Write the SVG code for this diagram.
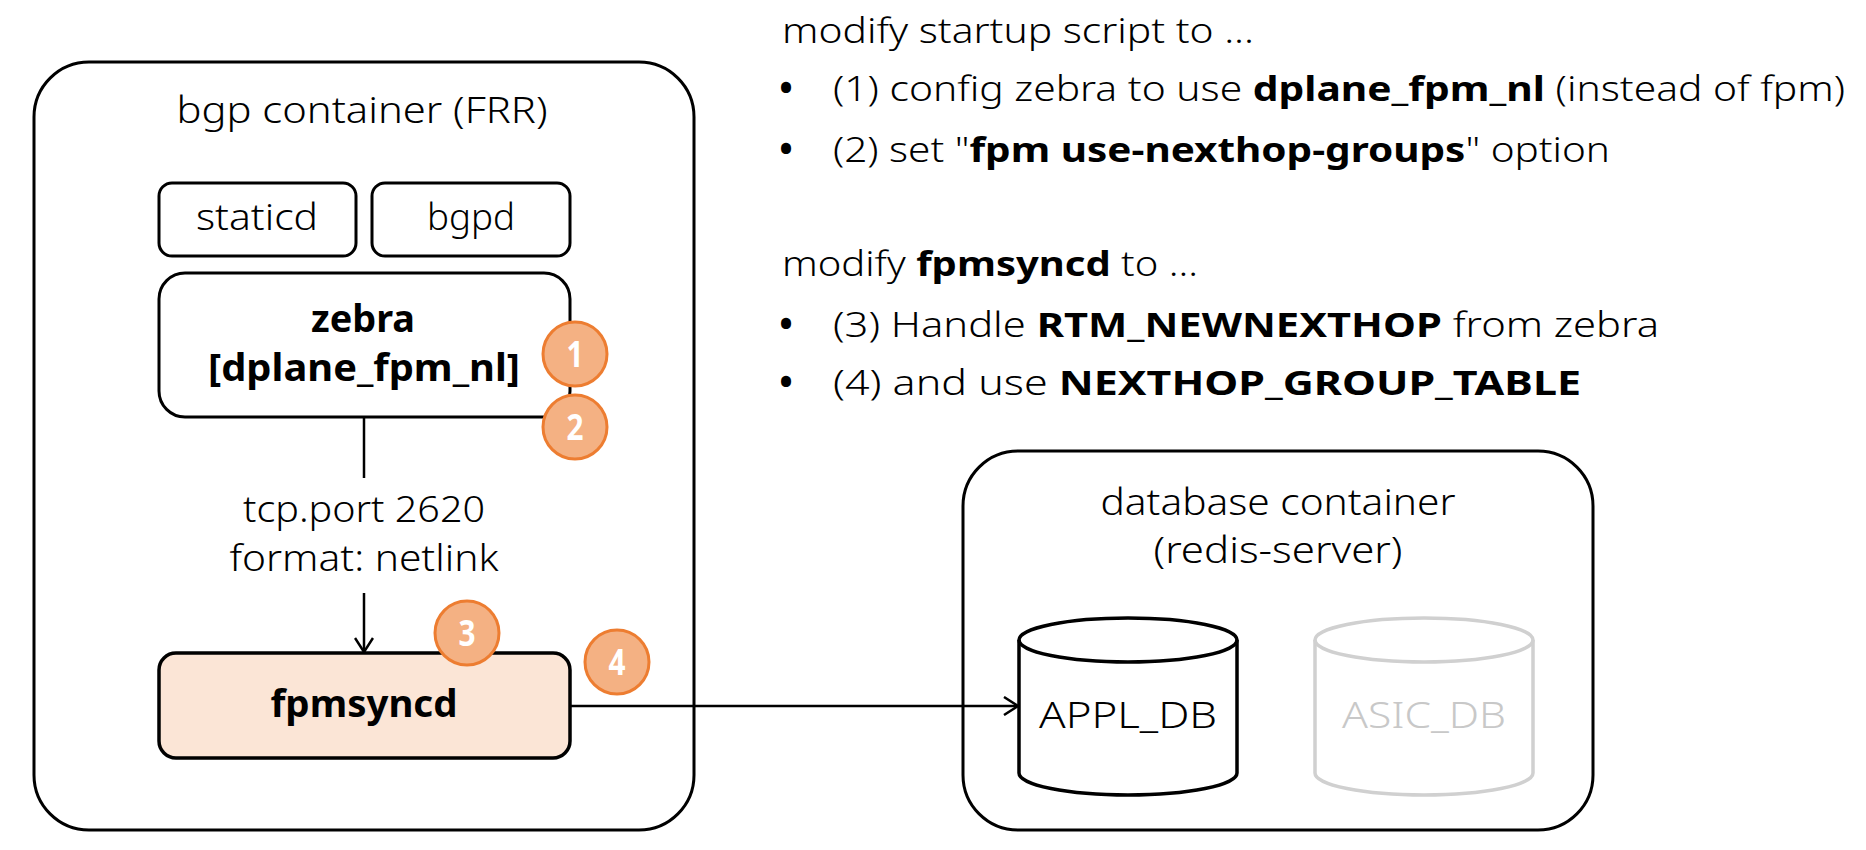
<svg xmlns="http://www.w3.org/2000/svg" width="1866" height="850" viewBox="0 0 1866 850">
<style>
  text { font-family: "Noto Sans", "Open Sans", "Liberation Sans", sans-serif; fill: #000; font-weight: 300; }
  .c { text-anchor: middle; }
  .b { font-weight: bold; }
  .container { fill: #fff; stroke: #000; stroke-width: 3; }
  .box { fill: #fff; stroke: #000; stroke-width: 3; }
  .lbl { font-size: 37px; }
  .rt { font-size: 34px; }
  .bul { font-size: 36px; font-weight: bold; text-anchor: middle; }
  .badge circle { fill: #F4B183; stroke: #ED7D31; stroke-width: 3; }
  .badge text { fill: #fff; font-size: 36px; font-weight: bold; text-anchor: middle; }
  .conn { fill: none; stroke: #000; stroke-width: 2.5; }
</style>
<defs>
  <marker id="arrow" viewBox="0 0 16 20" refX="15" refY="10" markerWidth="16" markerHeight="20" markerUnits="userSpaceOnUse" orient="auto">
    <path d="M1,1 L15,10 L1,19" fill="none" stroke="#000" stroke-width="2.5"/>
  </marker>
</defs>
<rect width="1866" height="850" fill="#fff"/>

<g id="bgp-container">
  <rect class="container" x="34" y="62" width="660" height="768" rx="55" ry="55"/>
  <text class="lbl c" x="362" y="123" textLength="371" lengthAdjust="spacingAndGlyphs">bgp container (FRR)</text>
</g>

<g id="db-container">
  <rect class="container" x="963" y="451" width="630" height="379" rx="55" ry="55"/>
  <text class="lbl c" x="1278" y="515" textLength="355" lengthAdjust="spacingAndGlyphs">database container</text>
  <text class="lbl c" x="1278" y="563" textLength="249" lengthAdjust="spacingAndGlyphs">(redis-server)</text>
</g>

<g id="connectors">
  <line class="conn" x1="364" y1="417" x2="364" y2="478"/>
  <line class="conn" x1="364" y1="593" x2="364" y2="652" marker-end="url(#arrow)"/>
  <line class="conn" x1="570" y1="706" x2="1018" y2="706" marker-end="url(#arrow)"/>
  <text class="lbl c" x="364" y="522" textLength="242" lengthAdjust="spacingAndGlyphs">tcp.port 2620</text>
  <text class="lbl c" x="364" y="571" textLength="269" lengthAdjust="spacingAndGlyphs">format: netlink</text>
</g>

<g id="staticd">
  <rect class="box" x="159" y="183" width="197" height="73" rx="13" ry="13"/>
  <text class="lbl c" x="257" y="230" textLength="122" lengthAdjust="spacingAndGlyphs">staticd</text>
</g>

<g id="bgpd">
  <rect class="box" x="372" y="183" width="198" height="73" rx="13" ry="13"/>
  <text class="lbl c" x="471" y="230" textLength="88" lengthAdjust="spacingAndGlyphs">bgpd</text>
</g>

<g id="zebra">
  <rect class="box" x="159" y="273" width="411" height="144" rx="26" ry="26"/>
  <text class="lbl c b" x="363" y="332" textLength="104" lengthAdjust="spacingAndGlyphs">zebra</text>
  <text class="lbl c b" x="364" y="381" textLength="312" lengthAdjust="spacingAndGlyphs">[dplane_fpm_nl]</text>
</g>

<g id="fpmsyncd">
  <rect x="159" y="653" width="411" height="105" rx="17" ry="17" fill="#FBE5D6" stroke="#000" stroke-width="3.5"/>
  <text class="lbl c b" x="364" y="717" textLength="187" lengthAdjust="spacingAndGlyphs">fpmsyncd</text>
</g>

<g id="appl-db">
  <path d="M1019,640 A109,22 0 0 1 1237,640 L1237,773 A109,22 0 0 1 1019,773 Z" fill="#fff" stroke="#000" stroke-width="3.5"/>
  <path d="M1019,640 A109,22 0 0 0 1237,640" fill="none" stroke="#000" stroke-width="3.5"/>
  <text class="lbl c" x="1128" y="728" textLength="178" lengthAdjust="spacingAndGlyphs">APPL_DB</text>
</g>

<g id="asic-db">
  <path d="M1315,640 A109,22 0 0 1 1533,640 L1533,773 A109,22 0 0 1 1315,773 Z" fill="#fff" stroke="#D0D0D0" stroke-width="3.5"/>
  <path d="M1315,640 A109,22 0 0 0 1533,640" fill="none" stroke="#D0D0D0" stroke-width="3.5"/>
  <text class="lbl c" x="1424" y="728" textLength="164" lengthAdjust="spacingAndGlyphs" style="fill:#C8C8C8">ASIC_DB</text>
</g>

<g id="badge-1" class="badge">
  <circle cx="575" cy="354" r="32"/>
  <text x="575" y="367" textLength="17" lengthAdjust="spacingAndGlyphs">1</text>
</g>
<g id="badge-2" class="badge">
  <circle cx="575" cy="427" r="32"/>
  <text x="575" y="440" textLength="17" lengthAdjust="spacingAndGlyphs">2</text>
</g>
<g id="badge-3" class="badge">
  <circle cx="467" cy="633" r="32"/>
  <text x="467" y="646" textLength="17" lengthAdjust="spacingAndGlyphs">3</text>
</g>
<g id="badge-4" class="badge">
  <circle cx="617" cy="662" r="32"/>
  <text x="617" y="675" textLength="17" lengthAdjust="spacingAndGlyphs">4</text>
</g>

<g id="notes">
  <text class="rt" x="782" y="43" textLength="472" lengthAdjust="spacingAndGlyphs">modify startup script to ...</text>
  <text class="bul" x="786" y="101">•</text>
  <text class="rt" x="833" y="101" textLength="1012" lengthAdjust="spacingAndGlyphs">(1) config zebra to use <tspan class="b">dplane_fpm_nl</tspan> (instead of fpm)</text>
  <text class="bul" x="786" y="162">•</text>
  <text class="rt" x="833" y="162" textLength="777" lengthAdjust="spacingAndGlyphs">(2) set "<tspan class="b">fpm use-nexthop-groups</tspan>" option</text>
  <text class="rt" x="782" y="276" textLength="416" lengthAdjust="spacingAndGlyphs">modify <tspan class="b">fpmsyncd</tspan> to ...</text>
  <text class="bul" x="786" y="337">•</text>
  <text class="rt" x="833" y="337" textLength="826" lengthAdjust="spacingAndGlyphs">(3) Handle <tspan class="b">RTM_NEWNEXTHOP</tspan> from zebra</text>
  <text class="bul" x="786" y="395">•</text>
  <text class="rt" x="833" y="395" textLength="748" lengthAdjust="spacingAndGlyphs">(4) and use <tspan class="b">NEXTHOP_GROUP_TABLE</tspan></text>
</g>
</svg>
